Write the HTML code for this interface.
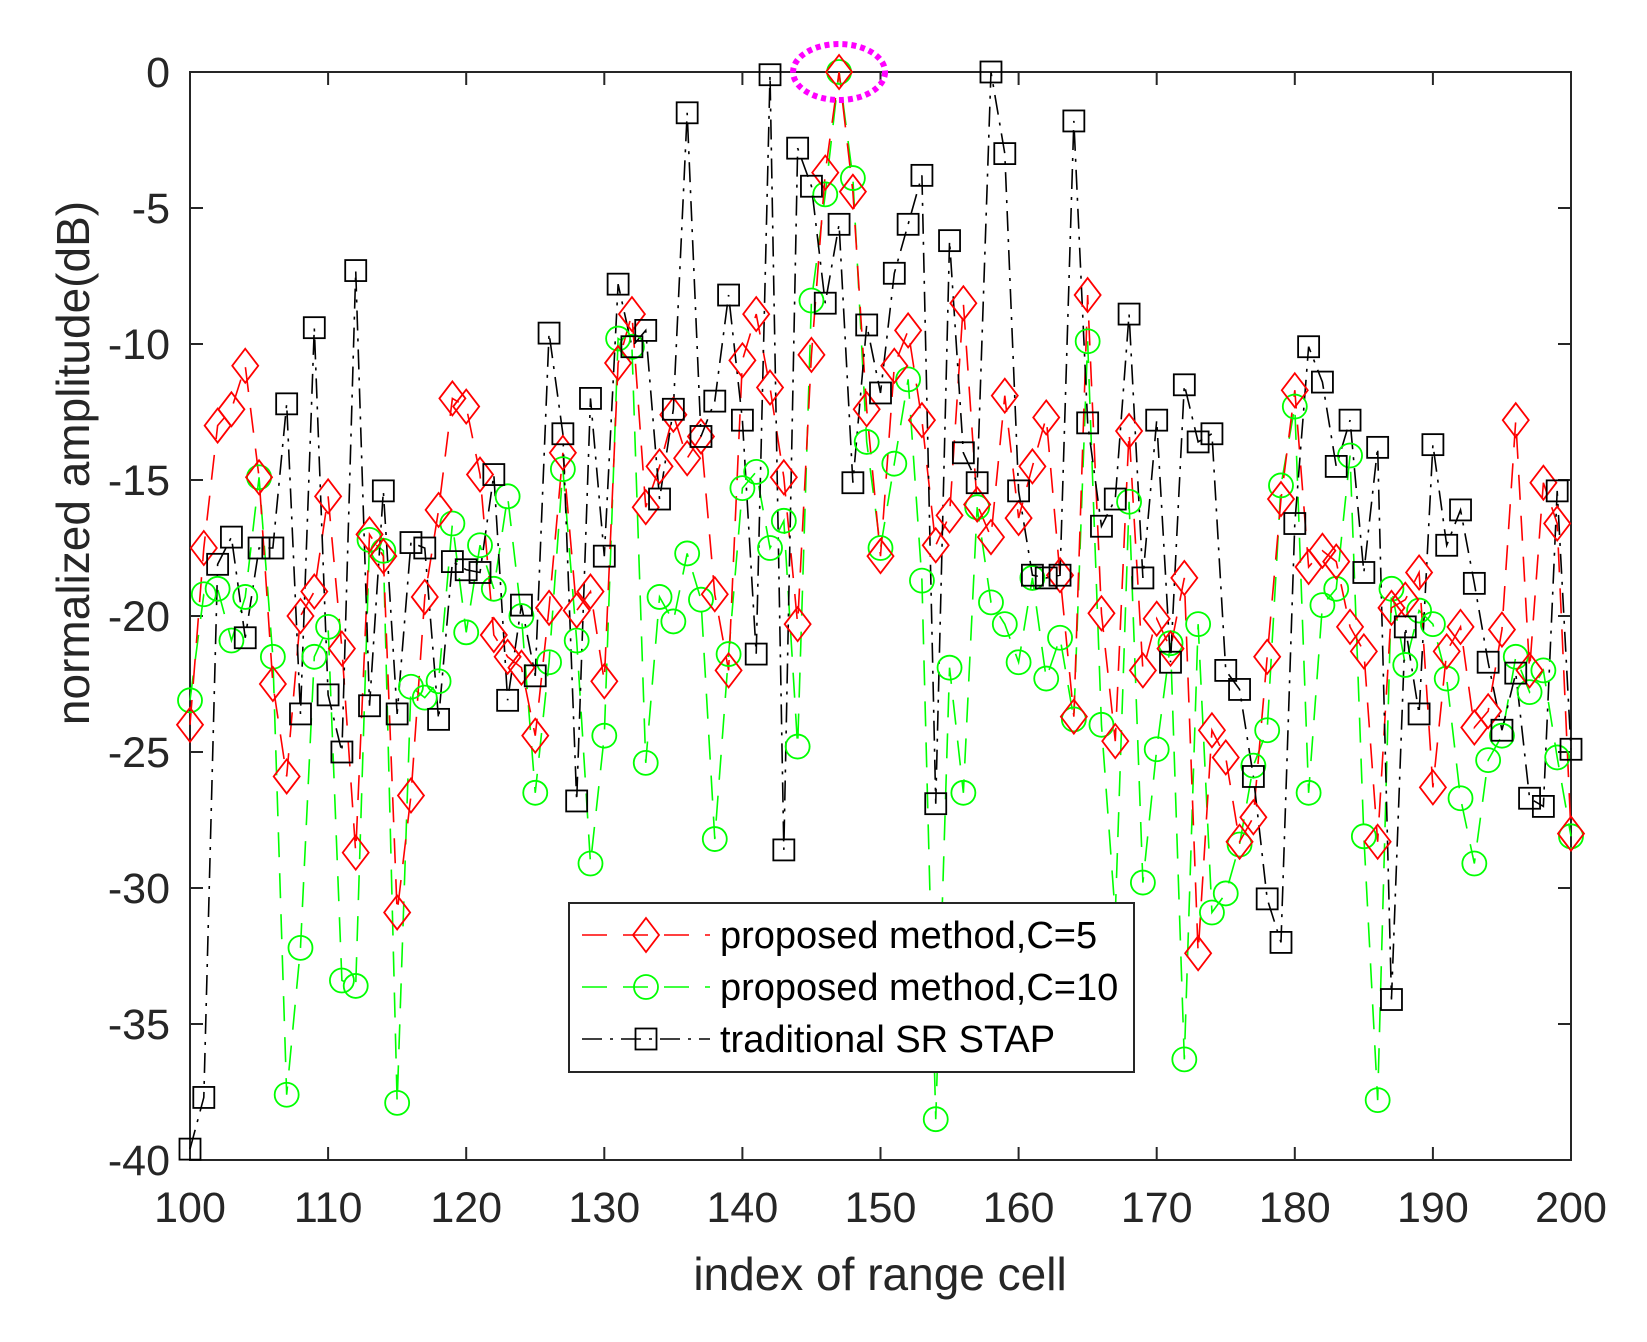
<!DOCTYPE html>
<html><head><meta charset="utf-8"><style>
html,body{margin:0;padding:0;background:#fff}
svg{display:block}
text{font-family:"Liberation Sans",Arial,sans-serif;fill:#262626}
</style></head><body>
<svg id="s" width="1647" height="1342" xmlns="http://www.w3.org/2000/svg"></svg>
<script>
const R=[-24,-17.5,-13,-12.4,-10.8,-14.9,-22.5,-25.9,-20,-19.1,-15.6,-21.2,-28.7,-17,-17.8,-30.9,-26.6,-19.3,-16.1,-12,-12.3,-14.8,-20.7,-21.5,-21.9,-24.4,-19.7,-14,-19.8,-19.1,-22.4,-10.7,-8.9,-16,-14.5,-12.6,-14.2,-13.4,-19.2,-22,-10.6,-8.9,-11.6,-14.9,-20.3,-10.4,-3.7,0,-4.4,-12.4,-17.8,-10.8,-9.5,-12.8,-17.4,-16.3,-8.5,-15.9,-17.1,-11.9,-16.4,-14.5,-12.7,-18.5,-23.7,-8.2,-19.9,-24.6,-13.2,-22,-20.1,-21.2,-18.6,-32.4,-24.2,-25.2,-28.3,-27.4,-21.5,-15.7,-11.7,-18.2,-17.6,-18,-20.4,-21.3,-28.3,-19.7,-19.4,-18.4,-26.3,-21.3,-20.4,-24.1,-23.5,-20.5,-12.8,-22,-15.1,-16.6,-28];
const G=[-23.1,-19.2,-19,-20.9,-19.3,-14.9,-21.5,-37.6,-32.2,-21.5,-20.4,-33.4,-33.6,-17.2,-17.6,-37.9,-22.6,-23,-22.4,-16.6,-20.6,-17.4,-19,-15.6,-20,-26.5,-21.7,-14.6,-20.9,-29.1,-24.4,-9.8,-10.1,-25.4,-19.3,-20.2,-17.7,-19.4,-28.2,-21.4,-15.3,-14.7,-17.5,-16.5,-24.8,-8.4,-4.5,0,-3.9,-13.6,-17.5,-14.4,-11.3,-18.7,-38.5,-21.9,-26.5,-16,-19.5,-20.3,-21.7,-18.6,-22.3,-20.8,-23.8,-9.9,-24,-31,-15.8,-29.8,-24.9,-21,-36.3,-20.3,-30.9,-30.2,-28.4,-25.5,-24.2,-15.2,-12.3,-26.5,-19.6,-19,-14.1,-28.1,-37.8,-19,-21.8,-19.8,-20.3,-22.3,-26.7,-29.1,-25.3,-24.4,-21.5,-22.8,-22,-25.2,-28.1];
const B=[-39.6,-37.7,-18.1,-17.1,-20.8,-17.5,-17.5,-12.2,-23.6,-9.4,-22.9,-25,-7.3,-23.3,-15.4,-23.6,-17.3,-17.5,-23.8,-18,-18.3,-18.4,-14.8,-23.1,-19.6,-22.2,-9.6,-13.3,-26.8,-12,-17.8,-7.8,-10.1,-9.5,-15.7,-12.4,-1.5,-13.4,-12.1,-8.2,-12.8,-21.4,-0.1,-28.6,-2.8,-4.2,-8.5,-5.6,-15.1,-9.3,-11.8,-7.4,-5.6,-3.8,-26.9,-6.2,-14,-15.1,0,-3,-15.4,-18.5,-18.6,-18.5,-1.8,-12.9,-16.7,-15.7,-8.9,-18.6,-12.8,-21.7,-11.5,-13.6,-13.3,-22,-22.7,-25.9,-30.4,-32,-16.6,-10.1,-11.4,-14.5,-12.8,-18.4,-13.8,-34.1,-20.4,-23.6,-13.7,-17.4,-16.1,-18.8,-21.7,-24.2,-22.1,-26.7,-27,-15.4,-24.9];
const L=190,Rt=1571,T=72,Bt=1160;
const X=i=>L+i*(Rt-L)/100, Y=v=>T-v*(Bt-T)/40;
let h='';
h+=`<rect x="${L}" y="${T}" width="${Rt-L}" height="${Bt-T}" fill="#fff" stroke="#262626" stroke-width="2"/>`;
for(let k=0;k<=10;k++){const x=X(k*10);
 h+=`<line x1="${x}" y1="${Bt}" x2="${x}" y2="${Bt-13}" stroke="#262626" stroke-width="2"/><line x1="${x}" y1="${T}" x2="${x}" y2="${T+13}" stroke="#262626" stroke-width="2"/>`;
 h+=`<text x="${x}" y="1222" font-size="43" text-anchor="middle">${100+k*10}</text>`;}
for(let k=0;k<=8;k++){const v=-5*k,y=Y(v);
 h+=`<line x1="${L}" y1="${y}" x2="${L+13}" y2="${y}" stroke="#262626" stroke-width="2"/><line x1="${Rt}" y1="${y}" x2="${Rt-13}" y2="${y}" stroke="#262626" stroke-width="2"/>`;
 h+=`<text x="170" y="${y+15}" font-size="43" text-anchor="end">${v}</text>`;}
h+=`<text x="880" y="1290" font-size="46" text-anchor="middle">index of range cell</text>`;
h+=`<text transform="translate(89,463) rotate(-90)" font-size="46" text-anchor="middle">normalized amplitude(dB)</text>`;
function line(d,c,dash){return `<polyline fill="none" stroke="${c}" stroke-width="1.6" stroke-dasharray="${dash}" points="${d.map((v,i)=>X(i)+','+Y(v)).join(' ')}"/>`;}
function dia(x,y,c){return `<polygon points="${x},${y-17} ${x+13},${y} ${x},${y+17} ${x-13},${y}" fill="none" stroke="${c}" stroke-width="1.8"/>`;}
function cir(x,y,c){return `<circle cx="${x}" cy="${y}" r="12" fill="none" stroke="${c}" stroke-width="1.8"/>`;}
function sq(x,y,c){return `<rect x="${x-10.5}" y="${y-10.5}" width="21" height="21" fill="none" stroke="${c}" stroke-width="1.8"/>`;}
const RD="25,16",GD="25,16",BD="20,8,3,8";
h+=line(G,'#00ff00',GD);h+=line(R,'#ff0000',RD);h+=line(B,'#000',BD);
G.forEach((v,i)=>h+=cir(X(i),Y(v),'#00ff00'));
R.forEach((v,i)=>h+=dia(X(i),Y(v),'#ff0000'));
B.forEach((v,i)=>h+=sq(X(i),Y(v),'#000'));
h+=`<ellipse cx="${X(47)}" cy="${T}" rx="46" ry="28" fill="none" stroke="#ff00ff" stroke-width="6" stroke-dasharray="5,4"/>`;
h+=`<rect x="569" y="903" width="565" height="169" fill="#fff" stroke="#262626" stroke-width="2"/>`;
const rows=[[935,'#ff0000',RD,dia,'proposed method,C=5'],[987,'#00ff00',GD,cir,'proposed method,C=10'],[1039,'#000',BD,sq,'traditional SR STAP']];
rows.forEach(r=>{h+=`<line x1="582" y1="${r[0]}" x2="710" y2="${r[0]}" stroke="${r[1]}" stroke-width="1.6" stroke-dasharray="${r[2]}"/>`+r[3](646,r[0],r[1])+`<text x="720" y="${r[0]+13}" font-size="38" style="fill:#000">${r[4]}</text>`;});
document.getElementById('s').innerHTML=h;
</script>
</body></html>
